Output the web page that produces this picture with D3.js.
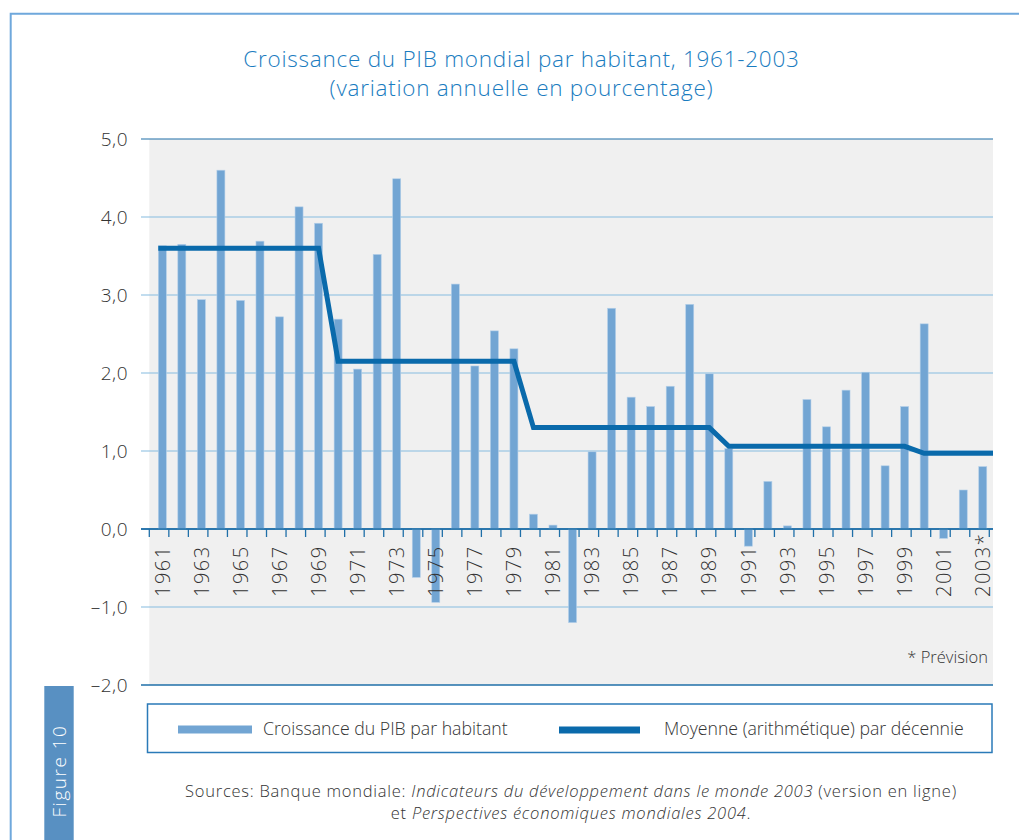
<!DOCTYPE html>
<html>
<head>
<meta charset="utf-8">
<script src="https://cdn.jsdelivr.net/npm/d3@7/dist/d3.min.js"></script>
<style>
  html, body { margin: 0; padding: 0; background: #fff; }
  svg { display: block; font-family: "Open Sans", "Noto Sans", sans-serif; font-weight: 300; }
</style>
</head>
<body>
<svg id="chart" width="1019" height="840"></svg>
<script>
// ---------- DATA ----------
const years = d3.range(1961, 2004);
const growth = [
  3.63, 3.65, 2.94, 4.60, 2.93, 3.69, 2.72, 4.13, 3.92,        // 1961-1969
  2.69, 2.05, 3.52, 4.49, -0.62, -0.94, 3.14, 2.09, 2.54, 2.31, // 1970-1979
  0.19, 0.05, -1.20, 0.99, 2.83, 1.69, 1.57, 1.83, 2.88, 1.99,  // 1980-1989
  1.03, -0.22, 0.61, 0.04, 1.66, 1.31, 1.78, 2.01, 0.81, 1.57,  // 1990-1999
  2.63, -0.12, 0.50, 0.80                                       // 2000-2003
];
const decadeStarts = [1961, 1970, 1980, 1990, 2000];
const decadeMeans = [3.60, 2.15, 1.30, 1.06, 0.97];
const yTicks = [5, 4, 3, 2, 1, 0, -1, -2];
const yTickLabels = ["5,0", "4,0", "3,0", "2,0", "1,0", "0,0", "\u20131,0", "\u20132,0"];
const xLabelYears = years.filter(y => y % 2 === 1);
const xLabelText = y => (y === 2003 ? "2003*" : String(y));

const titleLines = ["Croissance du PIB mondial par habitant, 1961-2003", "(variation annuelle en pourcentage)"];
const legendLabels = ["Croissance du PIB par habitant", "Moyenne (arithmétique) par décennie"];

// ---------- LAYOUT ----------
const plotLeft = 149.3, plotRight = 993, plotTop = 139, plotBottom = 685;
const tickRight = 989.3;
const barColor = "#72a5d3", lineColor = "#0a6aab", darkAxis = "#1f6fa8", gridColor = "#86bbe0";
const textColor = "#333333";

const svg = d3.select("#chart");

// Frame
svg.append("path")
  .attr("d", "M10.7,840 V13.7 H1019")
  .attr("fill", "none").attr("stroke", "#6fa8dc").attr("stroke-width", 2);

// Title
svg.append("g").selectAll("text").data(titleLines).join("text")
  .attr("x", 521.5).attr("y", (d, i) => 67 + i * 29)
  .attr("text-anchor", "middle")
  .attr("fill", "#1a7cc0").attr("font-size", 22.5).attr("letter-spacing", 0.75)
  .text(d => d);

// Scales
const x = d3.scaleBand().domain(years).range([plotLeft, tickRight]).padding(0);
const y = d3.scaleLinear().domain([-2, 5]).range([plotBottom, plotTop]);

// Plot background
svg.append("rect")
  .attr("x", plotLeft).attr("y", plotTop)
  .attr("width", plotRight - plotLeft).attr("height", plotBottom - plotTop)
  .attr("fill", "#f0f0f0");

// Gridlines
svg.append("g").selectAll("line").data(yTicks).join("line")
  .attr("x1", 141).attr("x2", plotRight)
  .attr("y1", d => y(d)).attr("y2", d => y(d))
  .attr("stroke", d => (d === 5 || d === 0 || d === -2) ? darkAxis : gridColor)
  .attr("stroke-width", d => (d === 0 || d === -2) ? 1.6 : 1.2);

// Y labels
svg.append("g").selectAll("text").data(yTicks).join("text")
  .attr("x", 128).attr("y", d => y(d))
  .attr("dy", "0.36em")
  .attr("text-anchor", "end")
  .attr("fill", textColor).attr("font-size", 19).attr("letter-spacing", 0.5)
  .text((d, i) => yTickLabels[i]);

// Bars
const barW = 8;
svg.append("g").selectAll("rect").data(years).join("rect")
  .attr("x", d => x(d) + 9)
  .attr("width", barW)
  .attr("y", (d, i) => y(Math.max(0, growth[i])))
  .attr("height", (d, i) => Math.abs(y(growth[i]) - y(0)))
  .attr("fill", barColor)
  .attr("stroke", "#b3cfe9").attr("stroke-width", 0.6);

// Zero axis + ticks at band boundaries
const tickPos = years.map(d => x(d)).concat([x.range()[1]]);
svg.append("g").selectAll("line").data(tickPos).join("line")
  .attr("x1", d => d).attr("x2", d => d)
  .attr("y1", y(0)).attr("y2", y(0) + 8)
  .attr("stroke", darkAxis).attr("stroke-width", 1.3);
svg.append("line")
  .attr("x1", 141).attr("x2", plotRight)
  .attr("y1", y(0)).attr("y2", y(0))
  .attr("stroke", darkAxis).attr("stroke-width", 1.6);

// X labels (rotated), drawn above bars
svg.append("g").selectAll("text").data(xLabelYears).join("text")
  .attr("transform", d => `translate(${x(d) + 13},597) rotate(-90)`)
  .attr("dy", "0.36em")
  .attr("text-anchor", "start")
  .attr("fill", textColor).attr("font-size", 20).attr("letter-spacing", 1.5)
  .text(d => xLabelText(d));

// Decade mean line
function decadeIndex(yr) {
  let idx = 0;
  decadeStarts.forEach((s, i) => { if (yr >= s) idx = i; });
  return idx;
}
const linePts = [[x(years[0]) + 9, y(decadeMeans[0])]]
  .concat(years.map(yr => [x(yr) + 13, y(decadeMeans[decadeIndex(yr)])]))
  .concat([[plotRight, y(decadeMeans[decadeMeans.length - 1])]]);
svg.append("path")
  .attr("d", d3.line()(linePts))
  .attr("fill", "none").attr("stroke", lineColor).attr("stroke-width", 5)
  .attr("stroke-linejoin", "miter");

// Prévision note
svg.append("text")
  .attr("x", 988).attr("y", 663)
  .attr("text-anchor", "end")
  .attr("fill", textColor).attr("font-size", 16.5)
  .text("* Prévision");

// Legend
svg.append("rect")
  .attr("x", 147.5).attr("y", 704).attr("width", 844.5).attr("height", 48.5)
  .attr("fill", "#fff").attr("stroke", "#2a7ab8").attr("stroke-width", 1.5);
svg.append("rect")
  .attr("x", 178).attr("y", 725.5).attr("width", 74).attr("height", 8)
  .attr("fill", barColor);
svg.append("rect")
  .attr("x", 559).attr("y", 726.5).attr("width", 81).attr("height", 7)
  .attr("fill", lineColor);
svg.append("g").selectAll("text").data(legendLabels).join("text")
  .attr("x", (d, i) => i === 0 ? 263 : 664)
  .attr("y", 729).attr("dy", "0.35em")
  .attr("fill", textColor).attr("font-size", 17.7)
  .text(d => d);

// Figure tab
svg.append("rect")
  .attr("x", 44.3).attr("y", 686).attr("width", 29.4).attr("height", 154)
  .attr("fill", "#5890c2");
svg.append("text")
  .attr("transform", "translate(59,771) rotate(-90)")
  .attr("text-anchor", "middle").attr("dy", "0.35em")
  .attr("fill", "#fff").attr("font-size", 19).attr("letter-spacing", 1.5)
  .text("Figure 10");

// Sources
const src1 = svg.append("text").attr("x", 571).attr("y", 797).attr("text-anchor", "middle")
  .attr("fill", textColor).attr("font-size", 16.5).attr("letter-spacing", 0.75);
src1.append("tspan").text("Sources: Banque mondiale: ");
src1.append("tspan").attr("font-style", "italic").text("Indicateurs du développement dans le monde 2003");
src1.append("tspan").text(" (version en ligne)");
const src2 = svg.append("text").attr("x", 571).attr("y", 819).attr("text-anchor", "middle")
  .attr("fill", textColor).attr("font-size", 16.5).attr("letter-spacing", 0.75);
src2.append("tspan").text("et ");
src2.append("tspan").attr("font-style", "italic").text("Perspectives économiques mondiales 2004");
src2.append("tspan").text(".");
</script>
</body>
</html>
